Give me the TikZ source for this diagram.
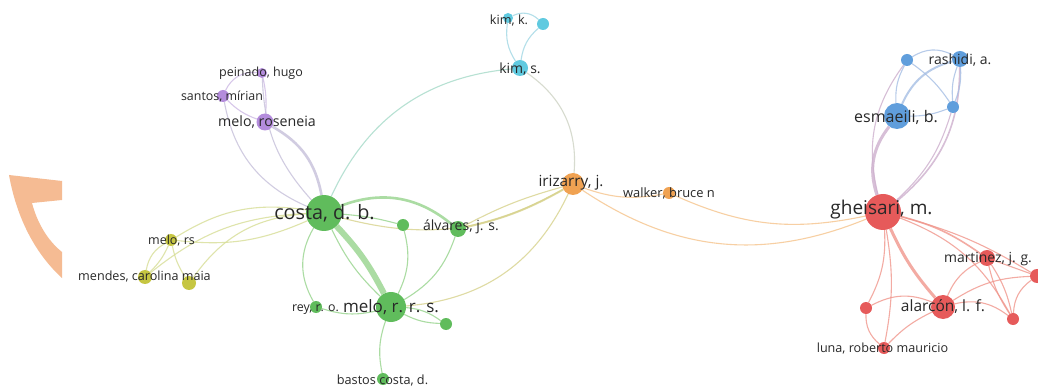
\documentclass[tikz,border=0pt]{standalone}
\usepackage{fontspec}
\setmainfont{Open Sans}
\pgfdeclarelayer{bg}
\pgfsetlayers{bg,main}
\definecolor{nGreen}{RGB}{96,188,92}
\definecolor{nRed}{RGB}{230,90,90}
\definecolor{nBlue}{RGB}{96,158,220}
\definecolor{nCyan}{RGB}{96,202,224}
\definecolor{nPurple}{RGB}{180,140,220}
\definecolor{nOrange}{RGB}{240,162,82}
\definecolor{nYellow}{RGB}{198,198,66}
\definecolor{eGreen}{RGB}{150,212,140}
\definecolor{eRed}{RGB}{240,150,140}
\definecolor{eBlue}{RGB}{165,190,228}
\definecolor{eCyan}{RGB}{160,215,228}
\definecolor{ePurple}{RGB}{205,185,228}
\definecolor{eOrange}{RGB}{246,196,140}
\definecolor{eYellow}{RGB}{215,222,150}
\definecolor{eCG}{RGB}{165,218,200}
\definecolor{eCO}{RGB}{205,210,195}
\definecolor{eGO}{RGB}{215,210,140}
\definecolor{eRB}{RGB}{205,175,205}
\definecolor{ePG}{RGB}{198,192,218}
\definecolor{blob}{RGB}{245,187,147}
\definecolor{txt}{RGB}{40,40,40}
\newcommand\lblsize[1]{\fontsize{#1}{#1}\selectfont}
\begin{document}
\begin{tikzpicture}[x=1pt,y=-1pt,
  dot/.style={circle,inner sep=0pt,minimum size=#1},
  gd/.style={dot=#1,fill=nGreen},
  rd/.style={dot=#1,fill=nRed},
  bd/.style={dot=#1,fill=nBlue},
  cd/.style={dot=#1,fill=nCyan},
  pd/.style={dot=#1,fill=nPurple},
  od/.style={dot=#1,fill=nOrange},
  yd/.style={dot=#1,fill=nYellow},
  lbl/.style={inner sep=0pt,text=txt,font=\lblsize{#1}},
  ed/.style={line width=1.1pt,opacity=0.8}]
\useasboundingbox (0,0) rectangle (1038,387);
\begin{pgfonlayer}{bg}
\fill[white] (0,0) rectangle (1038,387);
\end{pgfonlayer}
% orange fragment
\fill[blob] (9,175) -- (62,181) -- (62,200) -- (32,203)
  .. controls (37,222) and (47,240) .. (62,252) -- (62,278)
  .. controls (40,258) and (18,225) .. cycle;
% nodes
\node[cd=10] (kimk) at (508,18) {};
\node[cd=12] (cyan2) at (543,24) {};
\node[cd=16] (kims) at (520,68) {};
\node[pd=10] (peinado) at (262,73) {};
\node[pd=12] (santos) at (223,96) {};
\node[pd=17] (roseneia) at (265,122) {};
\node[gd=36] (costa) at (324,213) {};
\node[gd=12] (g1) at (403,225) {};
\node[gd=16] (alvares) at (458,229) {};
\node[yd=12] (melors) at (171,240) {};
\node[yd=14] (mendes) at (145,277) {};
\node[yd=14] (y2) at (189,283) {};
\node[gd=12] (rey) at (316,307) {};
\node[gd=30] (melorrs) at (391,307) {};
\node[gd=12] (g2) at (446,324) {};
\node[gd=12] (bastos) at (383,379) {};
\node[od=22] (irizarry) at (573,184) {};
\node[od=12] (walker) at (669,193) {};
\node[rd=36] (gheisari) at (883,212) {};
\node[bd=26] (esmaeili) at (897,116) {};
\node[bd=16] (rashidi) at (960,59) {};
\node[bd=12] (b1) at (907,60) {};
\node[bd=12] (b3) at (953,107) {};
\node[rd=16] (martinez) at (987,258) {};
\node[rd=14] (r1) at (1037,276) {};
\node[rd=24] (alarcon) at (943,307) {};
\node[rd=12] (r2) at (1013,319) {};
\node[rd=12] (r3) at (866,308) {};
\node[rd=12] (luna) at (884,348) {};
% labels
\node[lbl=12.7] (kimkL) at (509,20) {kim, k.};
\node[lbl=14] (kimsL) at (520,69) {kim, s.};
\node[lbl=12.5] (peinadoL) at (261,73) {peinado, hugo};
\node[lbl=12.4] (santosL) at (222,97) {santos, mírian};
\node[lbl=14.2] (roseneiaL) at (267,122) {melo, roseneia};
\node[lbl=19.8] (costaL) at (324.5,213) {costa, d. b.};
\node[lbl=14] (alvaresL) at (461,227) {álvares, j. s.};
\node[lbl=12.5] (melorsL) at (171.5,241) {melo, rs};
\node[lbl=12.6] (mendesL) at (144.5,277) {mendes, carolina maia};
\node[lbl=12.4] (reyL) at (315.5,310) {rey, r. o.};
\node[lbl=17] (melorrsL) at (391,307) {melo, r. r. s.};
\node[lbl=12.7] (bastosL) at (382.5,380) {bastos costa, d.};
\node[lbl=15.3] (irizarryL) at (571,183) {irizarry, j.};
\node[lbl=12.9] (walkerL) at (669,193) {walker, bruce n};
\node[lbl=19] (gheisariL) at (881.5,210) {gheisari, m.};
\node[lbl=16] (esmaeiliL) at (896,117) {esmaeili, b.};
\node[lbl=14] (rashidiL) at (960,60) {rashidi, a.};
\node[lbl=13.9] (martinezL) at (988,259) {martinez, j. g.};
\node[lbl=15.5] (alarconL) at (943,307) {alarcón, l. f.};
\node[lbl=12.6] (lunaL) at (882.5,349) {luna, roberto mauricio};
% edges
\begin{pgfonlayer}{bg}
% cyan
\draw[ed,eCyan] (kims) to[bend left=20] (kimk);
\draw[ed,eCyan] (kims) to[bend left=20] (cyan2);
\draw[ed,eCyan] (kimk) to[bend left=35] (cyan2);
\draw[ed,eCG] (costa) to[bend left=30] (kims);
\draw[ed,eCO] (kims) to[bend left=30] (irizarry);
% purple
\draw[ed,ePurple] (santos) to[bend left=35] (peinado);
\draw[ed,ePurple] (peinado) to[bend left=8] (roseneia);
\draw[ed,ePurple] (santos) to[bend right=12] (roseneia);
\draw[ed,ePG,line width=2.6pt] (roseneia) to[bend left=25] (costa);
\draw[ed,ePG] (santos) to[bend right=28] (costa);
\draw[ed,ePG] (peinado) to[bend right=20] (costa);
% yellow
\draw[ed,eYellow] (melors) to[bend left=10] (mendes);
\draw[ed,eYellow] (melors) to[bend right=10] (y2);
\draw[ed,eYellow] (melors) to[bend right=25] (mendes);
\draw[ed,eYellow] (melors) to[bend left=20] (costa);
\draw[ed,eYellow] (melors) to[bend right=15] (costa);
\draw[ed,eYellow] (mendes) to[bend left=18] (costa);
\draw[ed,eYellow] (y2) to[bend left=25] (costa);
% green
\draw[ed,eGreen,line width=6pt] (costa) to[bend left=8] (melorrs);
\draw[ed,eGreen] (costa) to[bend right=10] (melorrs);
\draw[ed,eGreen] (costa) to[bend right=30] (rey);
\draw[ed,eGreen,line width=2.6pt] (costa) to[bend left=30] (alvares);
\draw[ed,eGreen] (costa) to[bend left=5] (g1);
\draw[ed,eGreen] (g1) to[bend left=20] (melorrs);
\draw[ed,eGreen] (alvares) to[bend left=20] (melorrs);
\draw[ed,eGreen] (rey) to[bend right=15] (melorrs);
\draw[ed,eGreen] (melorrs) to[bend left=15] (g2);
\draw[ed,eGreen] (melorrs) to[bend right=12] (g2);
\draw[ed,eGreen] (melorrs) to[bend right=15] (bastos);
% orange and links
\draw[ed,eGO,line width=2pt] (alvares) to[bend right=8] (irizarry);
\draw[ed,eGO] (alvares) to[bend left=6] (irizarry);
\draw[ed,eGO] (costa) to[bend right=22] (irizarry);
\draw[ed,eGO] (melorrs) to[bend right=30] (irizarry);
\draw[ed,eOrange] (irizarry) to[bend right=15] (walker);
\draw[ed,eOrange] (irizarry) to[bend right=28] (gheisari);
\draw[ed,eOrange] (walker) to[bend right=18] (gheisari);
% blue
\draw[ed,eRB,line width=3pt] (gheisari) to[bend left=28] (esmaeili);
\draw[ed,eRB] (gheisari) to[bend left=25] (b1);
\draw[ed,eRB,line width=1.6pt] (gheisari) to[bend right=25] (rashidi);
\draw[ed,eRB] (gheisari) to[bend right=15] (b3);
\draw[ed,eBlue,line width=2pt] (esmaeili) to[bend left=25] (rashidi);
\draw[ed,eBlue] (esmaeili) to[bend left=15] (b1);
\draw[ed,eBlue] (esmaeili) to[bend right=10] (b3);
\draw[ed,eBlue] (b1) to[bend left=30] (rashidi);
\draw[ed,eBlue] (b1) to[bend left=10] (b3);
\draw[ed,eBlue] (rashidi) to[bend left=12] (b3);
\draw[ed,eBlue] (rashidi) to[bend right=12] (b3);
% red
\draw[ed,eRed,line width=3pt] (gheisari) to[bend right=8] (alarcon);
\draw[ed,eRed,line width=1.6pt] (gheisari) to[bend left=10] (martinez);
\draw[ed,eRed] (gheisari) to[bend left=8] (r1);
\draw[ed,eRed] (gheisari) to[bend left=15] (r3);
\draw[ed,eRed] (gheisari) to[bend left=10] (luna);
\draw[ed,eRed] (gheisari) to[bend left=20] (r2);
\draw[ed,eRed] (alarcon) to[bend left=20] (martinez);
\draw[ed,eRed] (alarcon) to[bend left=15] (r1);
\draw[ed,eRed] (r3) to[bend left=25] (alarcon);
\draw[ed,eRed] (luna) to[bend left=10] (alarcon);
\draw[ed,eRed] (alarcon) to[bend left=25] (r2);
\draw[ed,eRed] (r3) to[bend right=25] (luna);
\draw[ed,eRed] (martinez) to[bend left=10] (r2);
\draw[ed,eRed] (martinez) to[bend right=10] (r2);
\draw[ed,eRed] (r1) to[bend right=25] (r2);
\draw[ed,eRed] (martinez) to (r1);
\end{pgfonlayer}
\end{tikzpicture}
\end{document}
